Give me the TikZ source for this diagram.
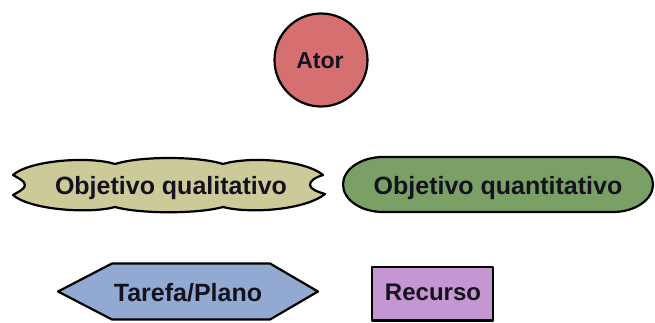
\documentclass[tikz,border=0pt]{standalone}
\usepackage{fontspec}
\setmainfont{Liberation Sans}
\definecolor{atorfill}{RGB}{214,112,112}
\definecolor{qualfill}{RGB}{204,202,153}
\definecolor{quantfill}{RGB}{122,160,102}
\definecolor{tarefill}{RGB}{146,170,210}
\definecolor{recfill}{RGB}{198,150,210}
\definecolor{txt}{RGB}{20,18,30}
\tikzset{
  shapeline/.style={draw=black, line width=2.2pt, line join=round},
  lbl/.style={anchor=base, inner sep=0pt, text=txt, font=\bfseries\fontsize{25}{28}\selectfont},
}
\begin{document}
\begin{tikzpicture}[x=1pt,y=1pt]
\useasboundingbox (0,0) rectangle (655,322);
% Ator
\draw[shapeline, fill=atorfill] (321,262) circle[radius=46.5];
\node[lbl, font=\bfseries\fontsize{23}{26}\selectfont] (ator) at (320,254) {Ator};
% Objetivo qualitativo (cloud)
\draw[shapeline, fill=qualfill]
  (13,147) .. controls (30,162) and (90,166) .. (115,158)
  .. controls (140,166) and (198,166) .. (223,158)
  .. controls (250,166) and (305,162) .. (323,147)
  .. controls (314,144) and (310,141) .. (310,137)
  .. controls (310,133) and (318,130) .. (325,128)
  .. controls (305,112) and (250,108) .. (223,115)
  .. controls (198,108) and (140,108) .. (115,115)
  .. controls (90,108) and (30,112) .. (13,127)
  .. controls (18,130) and (25,133) .. (25,137)
  .. controls (25,141) and (18,144) .. cycle;
\node[lbl] (qual) at (171,127.5) {Objetivo qualitativo};
% Objetivo quantitativo (ellipse-ended)
\draw[shapeline, fill=quantfill]
  (383,165) -- (613,165)
  arc[start angle=90, end angle=-90, x radius=40, y radius=27.5]
  -- (383,110)
  arc[start angle=270, end angle=90, x radius=40, y radius=27.5] -- cycle;
\node[lbl] (quant) at (498,127.5) {Objetivo quantitativo};
% Tarefa/Plano (hexagon)
\draw[shapeline, fill=tarefill]
  (58,30.5) -- (112,58.5) -- (270,58.5) -- (318,30.5) -- (270,2.5) -- (112,2.5) -- cycle;
\node[lbl] (tarefa) at (188,20.5) {Tarefa/Plano};
% Recurso (rectangle)
\draw[shapeline, fill=recfill] (372,1.5) rectangle (493,55);
\node[lbl, font=\bfseries\fontsize{24}{27}\selectfont] (recurso) at (433,22) {Recurso};
\end{tikzpicture}
\end{document}
